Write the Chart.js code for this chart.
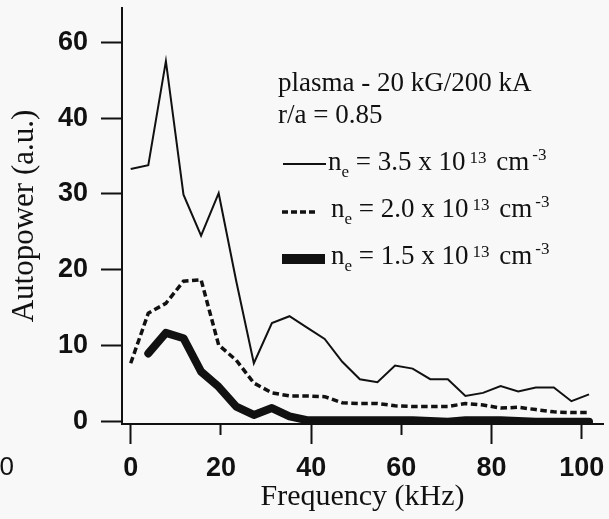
<!DOCTYPE html>
<html lang="en">
<head>
  <meta charset="UTF-8" />
  <title>Autopower spectrum</title>
  <script src="https://cdn.jsdelivr.net/npm/chart.js"></script>
  <style>
    html, body { margin: 0; padding: 0; background: #f8f8f8; }
    .wrap { width: 609px; height: 519px; position: relative; }
  </style>
</head>
<body>
<div class="wrap">
  <canvas id="spectrum"></canvas>
</div>

<script>
  // frequency samples (kHz)
  const freq = [0, 3.9, 7.8, 11.7, 15.6, 19.5, 23.4, 27.3, 31.3, 35.2, 39.1, 43.0, 46.9, 50.8,
                54.7, 58.6, 62.5, 66.4, 70.3, 74.2, 78.1, 82.0, 85.9, 89.8, 93.8, 97.7, 101.6];

  // autopower, in the plot's (linear) axis units
  const ne35 = [33.3, 33.8, 47.5, 29.9, 24.5, 30.1, 18.5, 7.7, 13.0, 13.9, 12.4, 10.9, 7.9, 5.6,
                5.2, 7.4, 7.0, 5.6, 5.6, 3.4, 3.8, 4.7, 4.0, 4.5, 4.5, 2.7, 3.6];
  const ne20 = [7.7, 14.3, 15.6, 18.5, 18.7, 10.1, 8.1, 5.1, 3.8, 3.4, 3.4, 3.3, 2.5, 2.4,
                2.4, 2.1, 2.0, 2.0, 2.0, 2.4, 2.2, 1.8, 1.9, 1.6, 1.3, 1.2, 1.2];
  const ne15 = [null, 9.0, 11.7, 11.0, 6.6, 4.6, 2.0, 0.9, 1.8, 0.7, 0.2, 0.2, 0.2, 0.2,
                0.2, 0.2, 0.2, 0.1, 0.0, 0.2, 0.2, 0.2, 0.1, 0.0, 0.0, 0.0, 0.0];

  const xTicks = [0, 20, 40, 60, 80, 100];
  const yTicks = [0, 10, 20, 30, 40, 50];
  const yTickLabels = ['0', '10', '20', '30', '40', '60'];

  const SANS = '"Liberation Sans", Arial, Helvetica, sans-serif';
  const SERIF = '"Liberation Serif", "Times New Roman", Times, serif';
  const INK = '#111';

  const pts = arr => freq.map((f, i) => ({ x: f, y: arr[i] }));

  // legend-like annotation in the upper right, drawn on the canvas
  function drawRich(ctx, x, y, parts) {
    let cx = x;
    parts.forEach(p => {
      cx += p.gap || 0;
      const small = p.sub || p.sup;
      ctx.font = small ? '17px ' + SERIF : '27px ' + SERIF;
      const dy = p.sub ? 7 : p.sup ? (p.high ? -10 : -7) : 0;
      ctx.fillText(p.t, cx, y + dy);
      cx += ctx.measureText(p.t).width;
    });
  }

  function densityLabel(value) {
    return [
      { t: 'n' }, { t: 'e', sub: true }, { t: ' = ' + value + ' x 10' },
      { t: '13', sup: true, gap: 4 }, { t: ' cm', gap: 3 }, { t: '-3', sup: true, high: true, gap: 3 }
    ];
  }

  const notes = {
    id: 'notes',
    afterDraw(chart) {
      const ctx = chart.ctx;
      ctx.save();
      ctx.fillStyle = INK;
      ctx.strokeStyle = INK;
      ctx.textBaseline = 'alphabetic';
      ctx.textAlign = 'left';
      ctx.font = '27px ' + SERIF;
      ctx.fillText('plasma - 20 kG/200 kA', 278, 91);
      ctx.fillText('r/a = 0.85', 278, 123);

      ctx.lineWidth = 2;
      ctx.beginPath(); ctx.moveTo(283, 164); ctx.lineTo(326, 164); ctx.stroke();
      drawRich(ctx, 328, 170, densityLabel('3.5'));

      ctx.lineWidth = 3.5;
      ctx.setLineDash([6, 3]);
      ctx.beginPath(); ctx.moveTo(282, 212); ctx.lineTo(318, 212); ctx.stroke();
      ctx.setLineDash([]);
      drawRich(ctx, 331, 217, densityLabel('2.0'));

      ctx.lineWidth = 10;
      ctx.beginPath(); ctx.moveTo(282, 259); ctx.lineTo(325, 259); ctx.stroke();
      drawRich(ctx, 331, 264, densityLabel('1.5'));

      // clipped tick label of a neighbouring panel at the left edge
      ctx.font = '26px ' + SANS;
      ctx.textAlign = 'right';
      ctx.textBaseline = 'middle';
      ctx.fillText('60', 14, 468);
      ctx.restore();
    }
  };

  new Chart(document.getElementById('spectrum'), {
    type: 'line',
    data: {
      datasets: [
        { label: 'ne = 3.5e13', data: pts(ne35), borderColor: INK, borderWidth: 2,
          pointRadius: 0, tension: 0, borderJoinStyle: 'miter' },
        { label: 'ne = 2.0e13', data: pts(ne20), borderColor: INK, borderWidth: 3.5,
          borderDash: [6.5, 3.5], pointRadius: 0, tension: 0 },
        { label: 'ne = 1.5e13', data: pts(ne15), borderColor: INK, borderWidth: 8,
          borderCapStyle: 'round', borderJoinStyle: 'round', pointRadius: 0, tension: 0 }
      ]
    },
    options: {
      responsive: true,
      maintainAspectRatio: false,
      animation: false,
      layout: { padding: { top: 8, right: 6, bottom: 0, left: 0 } },
      plugins: { legend: { display: false }, tooltip: { enabled: false } },
      scales: {
        x: {
          type: 'linear',
          min: -1.93,
          max: 104.7,
          afterBuildTicks: s => { s.ticks = xTicks.map(v => ({ value: v })); },
          afterFit: s => { s.height = 95; s.paddingLeft = 0; s.paddingRight = 0; },
          border: { display: true, color: INK, width: 2 },
          grid: {
            drawOnChartArea: false, drawTicks: true, tickLength: 20, tickWidth: 2, tickColor: INK,
            tickBorderDash: c => {
              const v = c.tick ? c.tick.value : 0;
              if (v === 20 || v === 60) return [10, 40];
              if (v === 100) return [14, 40];
              return [];
            }
          },
          ticks: {
            padding: 8, color: INK, maxRotation: 0, autoSkip: false,
            font: { family: SANS, size: 27, weight: 'bold' },
            callback: v => String(v)
          },
          title: {
            display: true, text: 'Frequency (kHz)', color: INK,
            font: { family: SERIF, size: 30, weight: 'normal' },
            padding: { top: 0, bottom: 4 }
          }
        },
        y: {
          type: 'linear',
          min: -0.3,
          max: 54.5,
          afterBuildTicks: s => { s.ticks = yTicks.map(v => ({ value: v })); },
          afterFit: s => { s.width = 122; s.paddingTop = 0; s.paddingBottom = 0; },
          border: { display: true, color: INK, width: 2 },
          grid: { drawOnChartArea: false, drawTicks: true, tickLength: 21, tickWidth: 2, tickColor: INK },
          ticks: {
            padding: 13, color: INK,
            font: { family: SANS, size: 27, weight: 'bold' },
            callback: (v, i) => yTickLabels[i]
          },
          title: {
            display: true, text: 'Autopower (a.u.)', color: INK,
            font: { family: SERIF, size: 31, weight: 'normal' },
            padding: { top: 6, bottom: 0 }
          }
        }
      }
    },
    plugins: [notes]
  });
</script>
</body>
</html>
